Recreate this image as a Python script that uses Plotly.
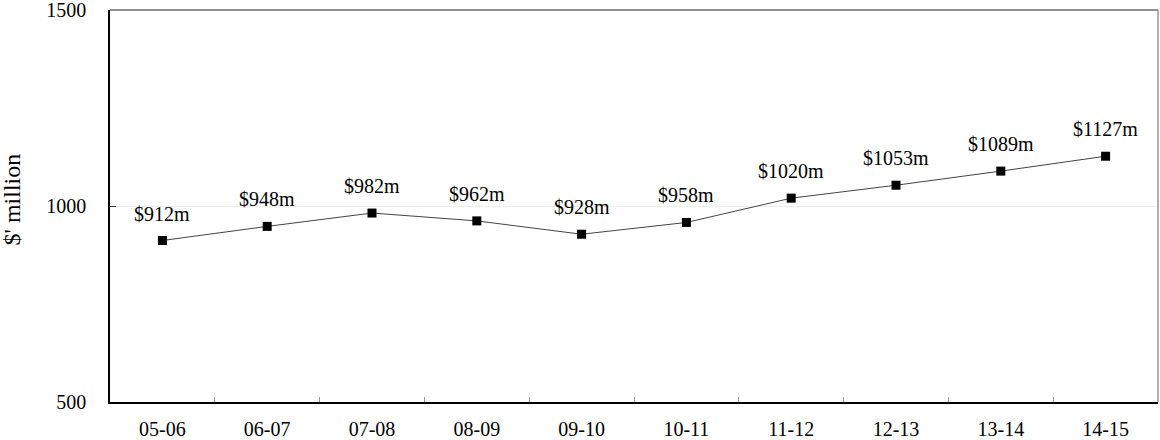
import plotly.graph_objects as go

years = ["05-06", "06-07", "07-08", "08-09", "09-10", "10-11", "11-12", "12-13", "13-14", "14-15"]
spend = [912, 948, 982, 962, 928, 958, 1020, 1053, 1089, 1127]
value_labels = [f"${v}m" for v in spend]

FONT = "Liberation Serif, Times New Roman, serif"

fig = go.Figure()
fig.add_trace(go.Scatter(
    x=years, y=spend, mode="lines+markers",
    line=dict(color="#444444", width=1),
    marker=dict(symbol="square", size=9, color="black"),
    hoverinfo="skip", showlegend=False,
))

# value labels sitting above each point
for x, y, t in zip(years, spend, value_labels):
    fig.add_annotation(x=x, y=y, text=t, showarrow=False, yshift=27,
                       yanchor="middle", font=dict(family=FONT, size=20, color="black"))

# y-axis title
fig.add_annotation(xref="paper", yref="paper", x=-0.094, y=0.518, text="$' million",
                   textangle=-90, showarrow=False, xanchor="center", yanchor="middle",
                   font=dict(family=FONT, size=24, color="black"))

# top and right frame edges
fig.add_shape(type="line", xref="paper", yref="paper", x0=0, x1=1, y0=1, y1=1,
              line=dict(color="#222222", width=1))
fig.add_shape(type="line", xref="paper", yref="paper", x0=1, x1=1, y0=0, y1=1,
              line=dict(color="#999999", width=1.5))

fig.update_layout(
    width=1160, height=440,
    margin=dict(l=110, r=2, t=10, b=38, autoexpand=False),
    paper_bgcolor="white", plot_bgcolor="white",
    font=dict(family=FONT, size=20, color="black"),
    xaxis=dict(
        type="category", range=[-0.5, len(years) - 0.5],
        tickson="boundaries", ticks="inside", ticklen=5,
        tickcolor="#999999", showgrid=False, showline=True, linecolor="black",
        linewidth=1.5, tickfont=dict(family=FONT, size=20), ticklabelstandoff=8,
        automargin=False,
    ),
    yaxis=dict(
        range=[500, 1500], tickvals=[500, 1000, 1500], ticks="inside", ticklen=6,
        tickcolor="#333333", showgrid=True, gridcolor="#eeeeee", gridwidth=1,
        zeroline=False, showline=True, linecolor="black", linewidth=1.5,
        tickfont=dict(family=FONT, size=20), ticklabelstandoff=18,
        ticklabeloverflow="allow", automargin=False,
    ),
)

fig.write_html("out.html")
